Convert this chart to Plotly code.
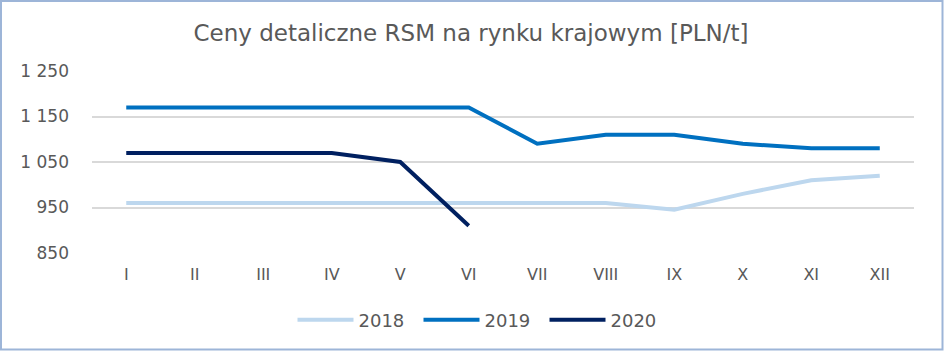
import plotly.graph_objects as go

months = ["I", "II", "III", "IV", "V", "VI", "VII", "VIII", "IX", "X", "XI", "XII"]
v2018 = [960, 960, 960, 960, 960, 960, 960, 960, 945, 980, 1010, 1020]
v2019 = [1170, 1170, 1170, 1170, 1170, 1170, 1090, 1110, 1110, 1090, 1080, 1080]
v2020 = [1070, 1070, 1070, 1070, 1050, 910]
tick_vals = [850, 950, 1050, 1150, 1250]
tick_text = ["850", "950", "1 050", "1 150", "1 250"]

colors = {"2018": "#BDD7EE", "2019": "#0070C0", "2020": "#002060"}
FONT = "DejaVu Sans"

fig = go.Figure()
for name, vals in [("2018", v2018), ("2019", v2019), ("2020", v2020)]:
    fig.add_trace(go.Scatter(
        x=months[:len(vals)], y=vals, name=name, mode="lines",
        line=dict(color=colors[name], width=4),
    ))

W, H = 944, 351
ml, mr, mt, mb = 92, 30, 71, 98
pw, ph = W - ml - mr, H - mt - mb

fig.update_layout(
    width=W, height=H,
    margin=dict(l=ml, r=mr, t=mt, b=mb),
    paper_bgcolor="white", plot_bgcolor="white",
    title=dict(text="Ceny detaliczne RSM na rynku krajowym [PLN/t]",
               x=(471 - ml) / pw, xanchor="center", xref="paper",
               y=1 - 33 / H, yanchor="middle",
               font=dict(family=FONT, size=23, color="#595959")),
    xaxis=dict(type="category", range=[-0.5, 11.5], showgrid=False,
               showline=False, zeroline=False, ticks="",
               tickfont=dict(family=FONT, size=16, color="#595959"),
               ticklabelstandoff=10),
    yaxis=dict(range=[850, 1250], tickvals=tick_vals, ticktext=tick_text,
               showgrid=True, gridcolor="#D9D9D9", gridwidth=1.5,
               zeroline=False, showline=False, ticks="",
               tickfont=dict(family=FONT, size=17, color="#595959"),
               ticklabelstandoff=22),
    legend=dict(orientation="h", x=(481.5 - ml) / pw, xanchor="center",
                y=-(320 - (mt + ph)) / ph, yanchor="middle",
                font=dict(family=FONT, size=18, color="#595959"),
                itemwidth=56, entrywidth=55, entrywidthmode="pixels",
                traceorder="normal"),
    showlegend=True,
)

# chart border (Excel-like frame)
fig.add_shape(type="rect", xref="paper", yref="paper",
              x0=(1 - ml) / pw, x1=(W - 1.5 - ml) / pw,
              y0=-(mb - 1.5) / ph, y1=1 + (mt - 1) / ph,
              line=dict(color="#9DB5D8", width=2), layer="below")

fig.write_html("out.html")
